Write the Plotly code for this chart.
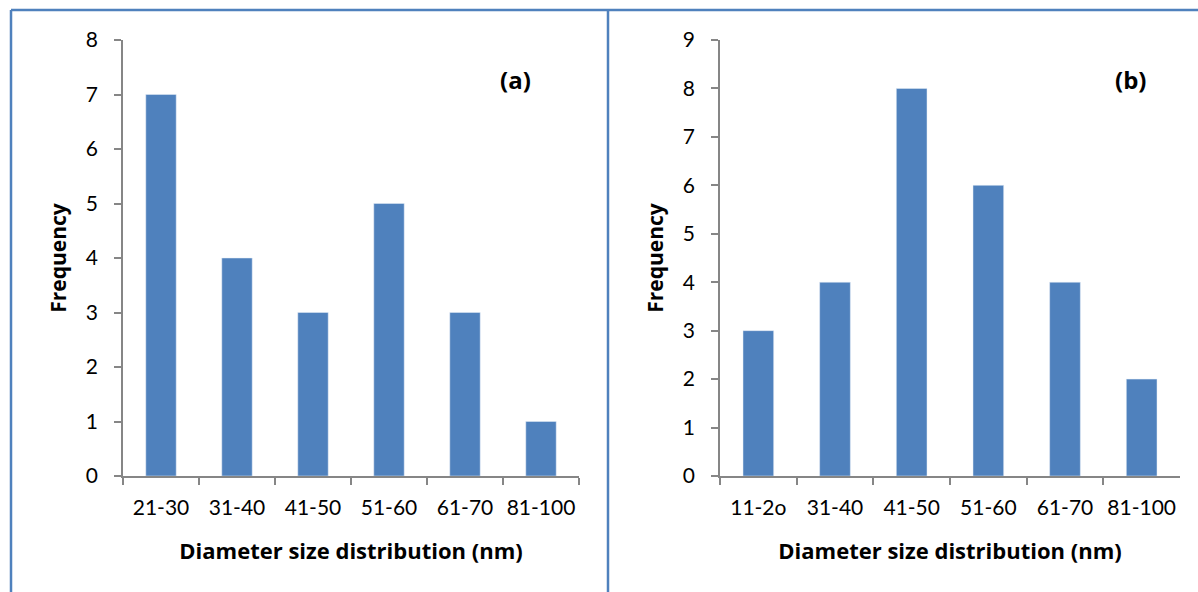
import plotly.graph_objects as go

cats_a = ["21-30", "31-40", "41-50", "51-60", "61-70", "81-100"]
freq_a = [7, 4, 3, 5, 3, 1]
cats_b = ["11-2o", "31-40", "41-50", "51-60", "61-70", "81-100"]
freq_b = [3, 4, 8, 6, 4, 2]

W, H = 1198, 592
BLUE = "#4F81BD"
AX = "#868686"
FONT = "Lato, 'Open Sans', sans-serif"
TFONT = "'Open Sans', Lato, sans-serif"

fig = go.Figure()
fig.add_trace(go.Bar(x=cats_a, y=freq_a, marker_color=BLUE, width=0.4, xaxis="x", yaxis="y"))
fig.add_trace(go.Bar(x=cats_b, y=freq_b, marker_color=BLUE, width=0.4, xaxis="x2", yaxis="y2"))

ydom = [1 - 476 / H, 1 - 40 / H]
common_x = dict(showline=True, linecolor=AX, linewidth=1.5, ticks="outside", ticklen=7,
                tickcolor=AX, tickwidth=1.5, tickson="boundaries", showgrid=False,
                automargin=False, tickangle=0,
                tickfont=dict(family=FONT, size=21, color="black"), ticklabelstandoff=12,
                title_font=dict(family=TFONT, size=22, color="black"), title_standoff=26)
common_y = dict(showline=True, linecolor=AX, linewidth=1.5, ticks="outside", ticklen=7,
                tickcolor=AX, tickwidth=1.5, showgrid=False, zeroline=False, dtick=1,
                automargin=False,
                tickfont=dict(family=FONT, size=21, color="black"), ticklabelstandoff=12,
                title_font=dict(family=TFONT, size=21, color="black"))

fig.update_layout(
    width=W, height=H, margin=dict(l=0, r=0, t=0, b=0),
    paper_bgcolor="white", plot_bgcolor="white", showlegend=False, bargap=0.6,
    xaxis=dict(domain=[123 / W, 579 / W], anchor="y",
               title=dict(text="<b>Diameter size distribution (nm)</b>"), **common_x),
    yaxis=dict(domain=ydom, anchor="x", range=[0, 8],
               title=dict(text="<b>Frequency</b>", standoff=14), **common_y),
    xaxis2=dict(domain=[720 / W, 1180 / W], anchor="y2",
                title=dict(text="<b>Diameter size distribution (nm)</b>"), **common_x),
    yaxis2=dict(domain=ydom, anchor="x2", range=[0, 9],
                title=dict(text="<b>Frequency</b>", standoff=14), **common_y),
    shapes=[
        dict(type="line", xref="paper", yref="paper", x0=11 / W, x1=1, y0=1 - 10 / H, y1=1 - 10 / H,
             line=dict(color=BLUE, width=2.5)),
        dict(type="line", xref="paper", yref="paper", x0=11 / W, x1=11 / W, y0=0, y1=1 - 10 / H,
             line=dict(color=BLUE, width=2.5)),
        dict(type="line", xref="paper", yref="paper", x0=608 / W, x1=608 / W, y0=0, y1=1 - 10 / H,
             line=dict(color=BLUE, width=2.5)),
    ],
    annotations=[
        dict(text="<b>(a)</b>", xref="paper", yref="paper", x=515 / W, y=1 - 80 / H,
             xanchor="center", yanchor="middle",
             showarrow=False, font=dict(family=TFONT, size=24, color="black")),
        dict(text="<b>(b)</b>", xref="paper", yref="paper", x=1130 / W, y=1 - 80 / H,
             xanchor="center", yanchor="middle",
             showarrow=False, font=dict(family=TFONT, size=24, color="black")),
    ],
)

fig.write_html("out.html")
